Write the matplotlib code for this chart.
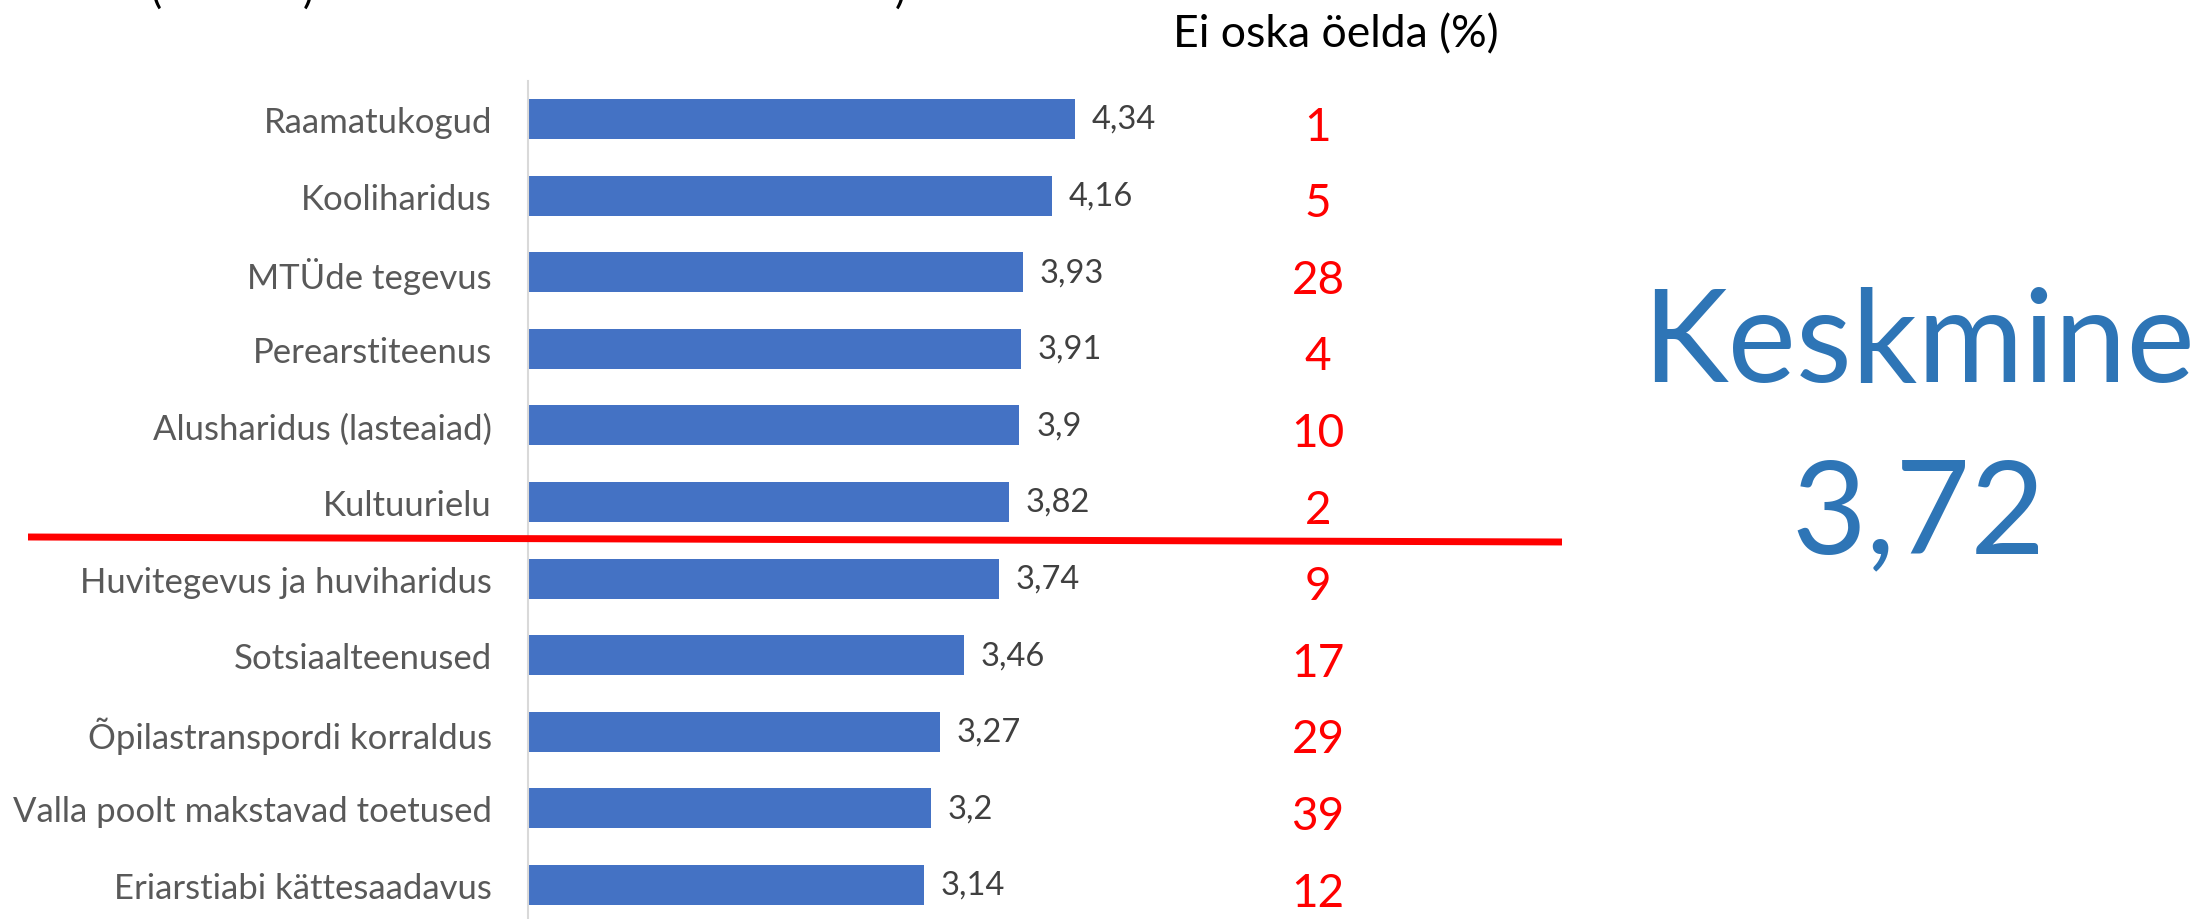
import matplotlib.pyplot as plt
import matplotlib.transforms as mtransforms
from matplotlib.lines import Line2D

plt.rcParams["font.family"] = ["Lato", "DejaVu Sans"]

categories = [
    "Raamatukogud",
    "Kooliharidus",
    "MTÜde tegevus",
    "Perearstiteenus",
    "Alusharidus (lasteaiad)",
    "Kultuurielu",
    "Huvitegevus ja huviharidus",
    "Sotsiaalteenused",
    "Õpilastranspordi korraldus",
    "Valla poolt makstavad toetused",
    "Eriarstiabi kättesaadavus",
]
scores = [4.34, 4.16, 3.93, 3.91, 3.9, 3.82, 3.74, 3.46, 3.27, 3.2, 3.14]
dont_know_pct = [1, 5, 28, 4, 10, 2, 9, 17, 29, 39, 12]
average_score = 3.72

W, H = 2200, 920
fig = plt.figure(figsize=(W / 100, H / 100), dpi=100)

# plot area in pixels: x=0 at 528 px, 126 px per unit; rows 76.6 px apart
left_px, px_per_unit = 528, 126
row_px, first_row_px = 76.6, 120
top_px = first_row_px - row_px / 2
bottom_px = top_px + row_px * len(categories)
ax = fig.add_axes([left_px / W, 1 - bottom_px / H, 1 - left_px / W, (bottom_px - top_px) / H])

y = list(range(len(categories)))
ax.barh(y, scores, height=0.52, color="#4472C4")
ax.set_xlim(0, (W - left_px) / px_per_unit)
ax.set_ylim(len(categories) - 0.5, -0.5)

ax.set_yticks(y)
ax.set_yticklabels(categories, fontsize=25, color="#595959")
ax.tick_params(axis="y", length=0, pad=26)
ax.set_xticks([])
for side in ["top", "right", "bottom"]:
    ax.spines[side].set_visible(False)
ax.spines["left"].set_color("#d9d9d9")
ax.spines["left"].set_linewidth(1.5)

for yi, v in zip(y, scores):
    ax.annotate(f"{v:g}".replace(".", ","), (v, yi), xytext=(12, 0),
                textcoords="offset points", va="center", ha="left",
                fontsize=23.5, color="#404040")

# red "don't know" column
col = mtransforms.blended_transform_factory(fig.transFigure, ax.transData)
for yi, p in zip(y, dont_know_pct):
    ax.text(1318 / W, yi + 0.1, str(p), transform=col, ha="center", va="center",
            fontsize=33, color="#FF0000")

fig.text(1336 / W, 1 - 47 / H, "Ei oska öelda (%)", ha="center", va="baseline",
         fontsize=32, color="black")

# cut-off title remnants at the top edge
for xp, ch in [(156, "("), (308, ")"), (900, ")")]:
    fig.text(xp / W, 1 - 3 / H, ch, ha="center", va="baseline", fontsize=30, color="black")

# red divider line between above- and below-average rows
fig.add_artist(Line2D([28 / W, 1562 / W], [1 - 538 / H, 1 - 543 / H],
                      transform=fig.transFigure, color="#FF0000", linewidth=5,
                      solid_capstyle="butt"))

avg_label = f"{average_score:g}".replace(".", ",")
fig.text(1918 / W, 1 - 382 / H, "Keskmine", ha="center", va="baseline",
         fontsize=93, color="#2E75B6")
fig.text(1918 / W, 1 - 553 / H, avg_label, ha="center", va="baseline",
         fontsize=93, color="#2E75B6")

fig.savefig("out.png", dpi=100)
